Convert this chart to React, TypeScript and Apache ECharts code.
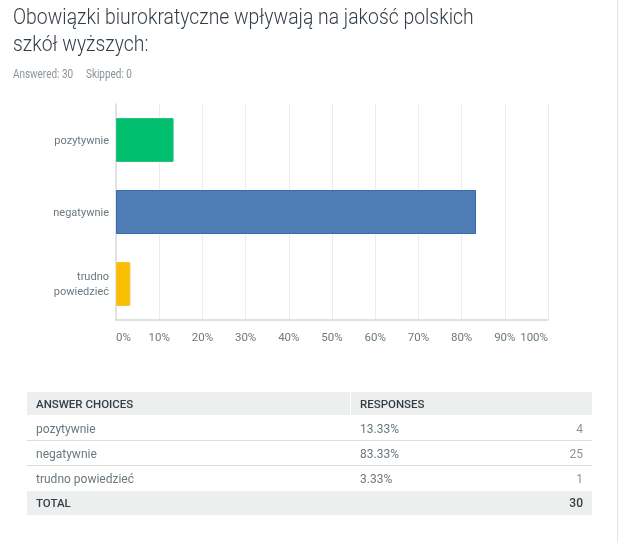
import React, { useEffect, useRef } from "react";
import * as echarts from "echarts";

const titleLines = ["Obowiązki biurokratyczne wpływają na jakość polskich", "szkół wyższych:"];
const answered = 30;
const skipped = 0;
const categories = ["pozytywnie", "negatywnie", "trudno\npowiedzieć"];
const tableLabels = ["pozytywnie", "negatywnie", "trudno powiedzieć"];
const percents = [13.33, 83.33, 3.33];
const counts = [4, 25, 1];
const total = 30;
const barColors = ["#00BF6F", "#507CB6", "#F9BE00"];
const barBorders = ["#2DC07F", "#3A6CB0", "#F5C23A"];
const xTicks = [0, 10, 20, 30, 40, 50, 60, 70, 80, 90, 100];

const FONT = "Roboto, 'Noto Sans', sans-serif";

export default function App() {
  const ref = useRef<HTMLDivElement>(null);
  useEffect(() => {
    if (!ref.current) return;
    const chart = echarts.init(ref.current, null, { renderer: "svg" });

    const tX = 27, tW = 565, colX = 350;
    const headerY = 392, rowH = 25;
    const graphics: any[] = [];
    graphics.push({ type: "text", x: 13, y: 3, scaleX: 0.88, style: { text: titleLines.join("\n"), font: `300 22px ${FONT}`, fill: "#333e48", lineHeight: 27 } });
    graphics.push({ type: "text", x: 13, y: 68, scaleX: 0.83, style: { text: `Answered: ${answered}`, font: `12px ${FONT}`, fill: "#8a949a" } });
    graphics.push({ type: "text", x: 86, y: 68, scaleX: 0.83, style: { text: `Skipped: ${skipped}`, font: `12px ${FONT}`, fill: "#8a949a" } });
    // right border
    graphics.push({ type: "rect", shape: { x: 617, y: 0, width: 1, height: 543 }, style: { fill: "#e4e4e4" } });
    // header
    graphics.push({ type: "rect", shape: { x: tX, y: headerY, width: tW, height: 23 }, style: { fill: "#edeeee" } });
    graphics.push({ type: "rect", shape: { x: colX, y: headerY, width: 1, height: 23 }, style: { fill: "#ffffff" } });
    graphics.push({ type: "text", x: 36, y: headerY + 12, style: { text: "ANSWER CHOICES", font: `500 11.5px ${FONT}`, fill: "#333e48", verticalAlign: "middle" } });
    graphics.push({ type: "text", x: 360, y: headerY + 12, style: { text: "RESPONSES", font: `500 11.5px ${FONT}`, fill: "#333e48", verticalAlign: "middle" } });
    tableLabels.forEach((lab, i) => {
      const y0 = headerY + 23 + i * rowH;
      const cy = y0 + rowH / 2 + 1;
      graphics.push({ type: "text", x: 36, y: cy, style: { text: lab, font: `12px ${FONT}`, fill: "#6b787f", verticalAlign: "middle" } });
      graphics.push({ type: "text", x: 360, y: cy, style: { text: percents[i].toFixed(2) + "%", font: `12px ${FONT}`, fill: "#6b787f", verticalAlign: "middle" } });
      graphics.push({ type: "text", x: 583, y: cy, style: { text: String(counts[i]), font: `12px ${FONT}`, fill: "#8a949a", align: "right", verticalAlign: "middle" } });
      if (i < tableLabels.length - 1) {
        graphics.push({ type: "rect", shape: { x: tX, y: y0 + rowH, width: tW, height: 1 }, style: { fill: "#dcdede" } });
      }
    });
    const totY = headerY + 23 + tableLabels.length * rowH + 1;
    graphics.push({ type: "rect", shape: { x: tX, y: totY, width: tW, height: 24 }, style: { fill: "#edeeee" } });
    graphics.push({ type: "text", x: 36, y: totY + 12, style: { text: "TOTAL", font: `500 11.5px ${FONT}`, fill: "#333e48", verticalAlign: "middle" } });
    graphics.push({ type: "text", x: 583, y: totY + 12, style: { text: String(total), font: `500 12px ${FONT}`, fill: "#333e48", align: "right", verticalAlign: "middle" } });

    chart.setOption({
      animation: false,
      textStyle: { fontFamily: FONT },
      grid: { left: 116, right: 72, top: 104, bottom: 223, containLabel: false },
      xAxis: {
        type: "value",
        min: 0,
        max: 100,
        interval: 10,
        axisLine: { show: true, lineStyle: { color: "#d5d7d8", width: 1.5 } },
        axisTick: { show: false },
        splitLine: { show: true, lineStyle: { color: "#ececec", width: 1 } },
        axisLabel: {
          color: "#6b787f",
          fontSize: 11.5,
          margin: 11,
          alignMinLabel: "left",
          alignMaxLabel: "right",
          formatter: (v: number) => (xTicks.includes(v) ? v + "%" : ""),
        },
      },
      yAxis: {
        type: "category",
        inverse: true,
        data: categories,
        axisLine: { show: true, lineStyle: { color: "#dcdcdc", width: 1.5 } },
        axisTick: { show: false },
        axisLabel: { color: "#6b787f", fontSize: 11, margin: 7, lineHeight: 15, align: "right" },
      },
      series: [
        {
          type: "bar",
          barWidth: 44,
          data: percents.map((v, i) => ({ value: v, itemStyle: { color: barColors[i], borderColor: barBorders[i], borderWidth: 1 } })),
        },
      ],
      graphic: graphics,
    });
    return () => chart.dispose();
  }, []);
  return <div ref={ref} style={{ position: "fixed", left: 0, top: 0, width: 620, height: 543 }} />;
}
